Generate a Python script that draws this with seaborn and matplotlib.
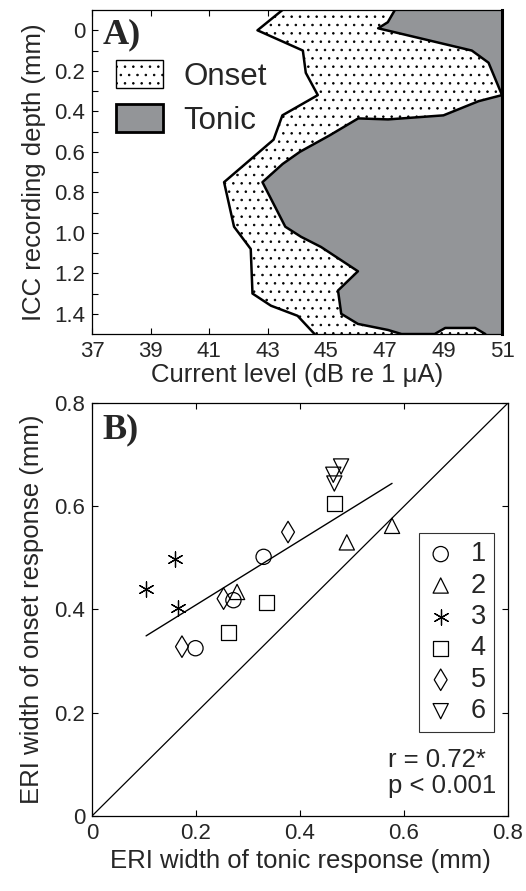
import numpy as np
import matplotlib
matplotlib.use("Agg")
import matplotlib.pyplot as plt
from matplotlib.patches import Patch
import seaborn as sns

# ---- Panel A: onset / tonic threshold contours across ICC depth ----
onset_depth = [-0.10, 0.00, 0.10, 0.21, 0.32, 0.42, 0.54, 0.75, 0.97, 1.08, 1.30, 1.36, 1.41, 1.50]
onset_level = [43.50, 42.65, 44.20, 44.30, 44.71, 43.50, 43.20, 41.51, 41.85, 42.42, 42.48, 43.11, 44.02, 44.60]

tonic_depth = [-0.10, -0.04, -0.01, 0.10, 0.16, 0.32, 0.35, 0.42, 0.44, 0.435, 0.52, 0.60, 0.66,
               0.75, 0.97, 1.02, 1.07, 1.19, 1.285, 1.40, 1.45, 1.48, 1.50, 1.50, 1.47, 1.47, 1.50]
tonic_level = [47.34, 47.10, 46.77, 49.97, 50.54, 51.00, 50.20, 49.00, 47.11, 46.09, 45.10, 44.10, 43.51,
               42.82, 43.60, 44.14, 44.82, 46.08, 45.40, 45.51, 46.08, 47.11, 47.57, 48.70, 49.06, 50.08, 50.43]

level_ticks = [37, 39, 41, 43, 45, 47, 49, 51]
depth_ticks = [0.0, 0.1, 0.2, 0.3, 0.4, 0.5, 0.6, 0.7, 0.8, 0.9, 1.0, 1.1, 1.2, 1.3, 1.4]
depth_labels = ["0", "", "0.2", "", "0.4", "", "0.6", "", "0.8", "", "1.0", "", "1.2", "", "1.4"]

# ---- Panel B: ERI widths per animal ----
subject = [1, 1, 1, 2, 2, 2, 3, 3, 3, 4, 4, 4, 5, 5, 5, 6, 6, 6]
tonic_width = [0.330, 0.272, 0.199, 0.577, 0.490, 0.279, 0.159, 0.104, 0.165,
               0.467, 0.335, 0.263, 0.377, 0.253, 0.173, 0.479, 0.464, 0.466]
onset_width = [0.502, 0.418, 0.325, 0.562, 0.530, 0.434, 0.497, 0.439, 0.403,
               0.606, 0.414, 0.355, 0.550, 0.421, 0.328, 0.677, 0.661, 0.644]
subject_markers = {1: "o", 2: "^", 3: (6, 2, 0), 4: "s", 5: "d", 6: "v"}
width_ticks = [0, 0.2, 0.4, 0.6, 0.8]
width_labels = ["0", "0.2", "0.4", "0.6", "0.8"]
stats_text = "r = 0.72*\np < 0.001"

sns.set_style("ticks")
plt.rcParams["font.family"] = ["Liberation Sans", "DejaVu Sans"]
plt.rcParams["hatch.linewidth"] = 0.6
plt.rcParams["axes.linewidth"] = 0.9

GRAY = "#939598"

fig = plt.figure(figsize=(5.26, 8.91), dpi=100)
axA = fig.add_axes([0.1749, 0.6251, 0.7795, 0.3636])
axB = fig.add_axes([0.1749, 0.0842, 0.7909, 0.4635])

# ---------------- Panel A ----------------
axA.fill_betweenx(onset_depth, onset_level, 51, facecolor="white", edgecolor="k",
                  hatch="..", linewidth=0, zorder=1)
axA.fill(tonic_level + [51, 51], tonic_depth + [1.5, -0.1], facecolor=GRAY,
         edgecolor="none", zorder=2)
sns.lineplot(x=onset_level, y=onset_depth, sort=False, estimator=None,
             color="k", lw=1.8, ax=axA, zorder=3)
sns.lineplot(x=tonic_level, y=tonic_depth, sort=False, estimator=None,
             color="k", lw=1.8, ax=axA, zorder=3)

axA.set_xlim(37, 51)
axA.set_ylim(1.5, -0.1)
axA.set_xticks(level_ticks)
axA.set_xticklabels([str(v) for v in level_ticks])
axA.set_yticks(depth_ticks)
axA.set_yticklabels(depth_labels)
axA.tick_params(direction="in", top=True, right=True, length=4, width=0.8,
                labelsize=16, pad=5, color="k")
for s in axA.spines.values():
    s.set_color("k")
    s.set_zorder(4)
axA.spines["right"].set_linewidth(2.2)
axA.set_xlabel("Current level (dB re 1 \u03bcA)", fontsize=18.5, labelpad=1)
axA.set_ylabel("ICC recording depth (mm)", fontsize=18.5, labelpad=6)

handlesA = [Patch(facecolor="white", edgecolor="k", hatch="..", lw=1.0, label="Onset"),
            Patch(facecolor=GRAY, edgecolor="k", lw=2.0, label="Tonic")]
axA.legend(handles=handlesA, loc="upper left", bbox_to_anchor=(0.058, 0.846),
           frameon=False, fontsize=22.5, handlelength=1.52, handleheight=1.0,
           handletextpad=0.65, labelspacing=0.4, borderpad=0, borderaxespad=0)
axA.text(0.025, 0.975, "A)", transform=axA.transAxes, ha="left", va="top",
         fontsize=26, fontweight="bold", family=["Liberation Serif", "DejaVu Serif"], zorder=5)

# ---------------- Panel B ----------------
axB.axline((0, 0), slope=1, color="k", lw=0.9, zorder=1)
sns.regplot(x=tonic_width, y=onset_width, scatter=False, ci=None, truncate=True,
            line_kws=dict(color="k", lw=1.0), ax=axB)

subj = np.array(subject)
tw = np.array(tonic_width)
ow = np.array(onset_width)
for sid, mk in subject_markers.items():
    sel = subj == sid
    if isinstance(mk, tuple):
        sns.scatterplot(x=tw[sel], y=ow[sel], marker=mk, s=120, color="k",
                        linewidth=0.9, label=str(sid), ax=axB, zorder=3)
    else:
        sns.scatterplot(x=tw[sel], y=ow[sel], marker=mk, s=120, facecolors="none",
                        edgecolors="k", linewidth=0.9, label=str(sid), ax=axB, zorder=3)

axB.set_xlim(0, 0.8)
axB.set_ylim(0, 0.8)
axB.set_xticks(width_ticks)
axB.set_xticklabels(width_labels)
axB.set_yticks(width_ticks)
axB.set_yticklabels(width_labels)
axB.tick_params(direction="in", top=True, right=True, length=4, width=0.8,
                labelsize=16, pad=5, color="k")
for s in axB.spines.values():
    s.set_color("k")
axB.set_xlabel("ERI width of tonic response (mm)", fontsize=18.5, labelpad=4)
axB.set_ylabel("ERI width of onset response (mm)", fontsize=18.5, labelpad=7)

h, l = axB.get_legend_handles_labels()
legB = axB.legend(h, l, loc="upper right", bbox_to_anchor=(0.966, 0.685),
                  frameon=True, fancybox=False, fontsize=19.5, handlelength=1.0,
                  handletextpad=0.6, labelspacing=0.2, borderpad=0.3, borderaxespad=0,
                  markerscale=1.0)
legB.get_frame().set_edgecolor("k")
legB.get_frame().set_linewidth(0.8)

axB.text(0.712, 0.104, stats_text, transform=axB.transAxes, ha="left", va="center",
         fontsize=18.5, linespacing=1.15)
axB.text(0.025, 0.975, "B)", transform=axB.transAxes, ha="left", va="top",
         fontsize=26, fontweight="bold", family=["Liberation Serif", "DejaVu Serif"])

fig.savefig("out.png", dpi=100)
